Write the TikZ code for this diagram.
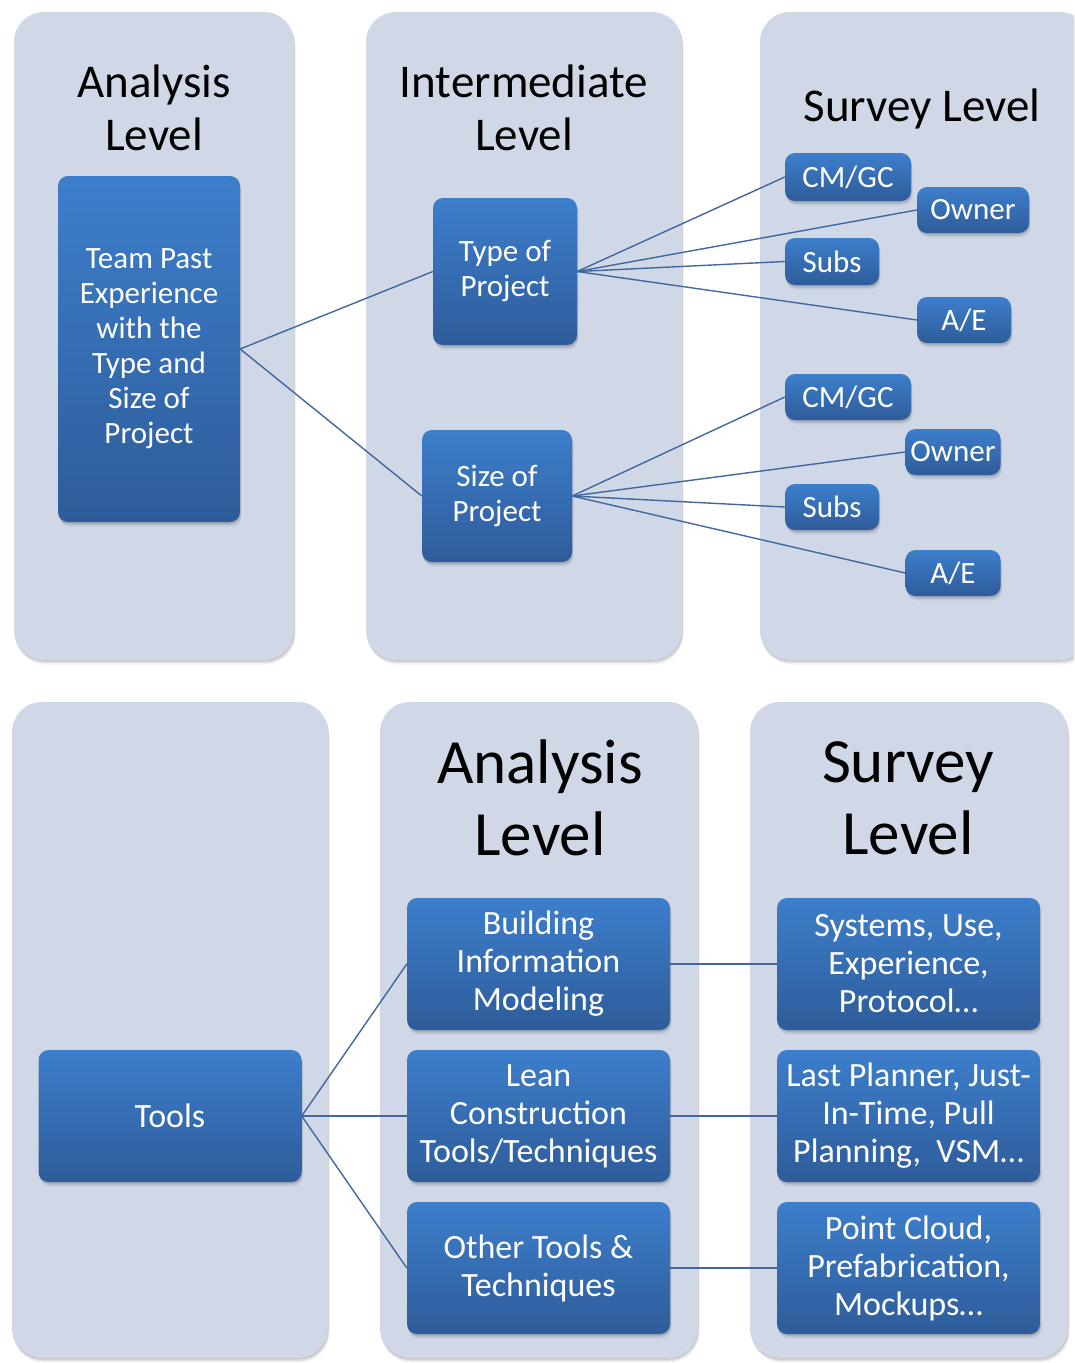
\documentclass[tikz,border=0pt]{standalone}
\usepackage{fontspec}
\setmainfont{Carlito}
\usetikzlibrary{shadows}

\definecolor{panelfill}{HTML}{D0D8E8}
\definecolor{boxtop}{HTML}{3D7ECB}
\definecolor{boxbot}{HTML}{2E5C9A}
\definecolor{linkcol}{HTML}{41679E}

\tikzset{
  softshadow/.style={
    drop shadow={shadow xshift=0.5pt, shadow yshift=-1.5pt, opacity=0.10, fill=black},
    drop shadow={shadow xshift=1pt, shadow yshift=-3pt, opacity=0.08, fill=black},
    drop shadow={shadow xshift=1.5pt, shadow yshift=-4.5pt, opacity=0.05, fill=black}},
  panel/.style={rectangle, rounded corners=30pt, fill=panelfill, draw=none,
    inner sep=0pt, softshadow},
  bluebox/.style={rectangle, rounded corners=10pt, top color=boxtop,
    bottom color=boxbot, draw=none, text=white, align=center, inner sep=0pt,
    softshadow},
  smalltxt/.style={font=\fontsize{31}{35}\selectfont},
  bigtxt/.style={font=\fontsize{34}{38}\selectfont},
  title/.style={align=center, text=black, font=\fontsize{47}{53}\selectfont},
  bigtitle/.style={align=center, text=black, font=\fontsize{63}{72}\selectfont},
  link/.style={draw=linkcol, line width=1.4pt},
}

\begin{document}
\begin{tikzpicture}[x=1pt, y=-1pt]
\useasboundingbox (0,0) rectangle (1074,1363);
\clip (0,0) rectangle (1074,1363);

% background columns
\node[panel, minimum width=280pt, minimum height=648pt] (p1) at (154,336) {};
\node[panel, minimum width=316pt, minimum height=648pt] (p2) at (524,336) {};
\node[panel, minimum width=330pt, minimum height=648pt] (p3) at (925,336) {};
\node[panel, minimum width=316pt, minimum height=656pt] (p4) at (170,1030) {};
\node[panel, minimum width=318pt, minimum height=656pt] (p5) at (539,1030) {};
\node[panel, minimum width=318pt, minimum height=656pt] (p6) at (909,1030) {};

% column headings
\node[title] (t1) at (154,108) {Analysis\\Level};
\node[title] (t2) at (524,108) {Intermediate\\Level};
\node[title] (t3) at (922,109) {Survey Level};
\node[bigtitle] (t4) at (540,798) {Analysis\\Level};
\node[bigtitle] (t5) at (908,798) {Survey\\Level};

% upper tree
\node[bluebox, smalltxt, minimum width=182pt, minimum height=346pt] (team) at (149,349)
  {Team Past\\Experience\\with the\\Type and\\Size of\\Project};
\node[bluebox, smalltxt, minimum width=144pt, minimum height=147pt] (type) at (505,271.5)
  {Type of\\Project};
\node[bluebox, smalltxt, minimum width=150pt, minimum height=132pt] (size) at (497,496)
  {Size of\\Project};

\node[bluebox, smalltxt, minimum width=126pt, minimum height=48pt] (cma) at (848,177) {CM/GC};
\node[bluebox, smalltxt, minimum width=112pt, minimum height=46pt] (owna) at (973,210) {Owner};
\node[bluebox, smalltxt, minimum width=94pt, minimum height=47pt] (subsa) at (832,261.5) {Subs};
\node[bluebox, smalltxt, minimum width=94pt, minimum height=46pt] (aea) at (964,320) {A/E};

\node[bluebox, smalltxt, minimum width=126pt, minimum height=46pt] (cmb) at (848,397) {CM/GC};
\node[bluebox, smalltxt, minimum width=95pt, minimum height=46pt] (ownb) at (953,452) {Owner};
\node[bluebox, smalltxt, minimum width=94pt, minimum height=46pt] (subsb) at (832,507) {Subs};
\node[bluebox, smalltxt, minimum width=95pt, minimum height=46pt] (aeb) at (953,573) {A/E};

% lower tree
\node[bluebox, bigtxt, minimum width=263pt, minimum height=132pt] (tools) at (170,1116) {Tools};
\node[bluebox, bigtxt, minimum width=263pt, minimum height=132pt] (bim) at (538.5,964)
  {Building\\Information\\Modeling};
\node[bluebox, bigtxt, minimum width=263pt, minimum height=132pt] (lean) at (538.5,1116)
  {Lean\\Construction\\Tools/Techniques};
\node[bluebox, bigtxt, minimum width=263pt, minimum height=132pt] (other) at (538.5,1268)
  {Other Tools \&\\Techniques};
\node[bluebox, bigtxt, minimum width=263pt, minimum height=132pt] (sys) at (908.5,964)
  {Systems, Use,\\Experience,\\Protocol…};
\node[bluebox, bigtxt, minimum width=263pt, minimum height=132pt] (last) at (908.5,1116)
  {Last Planner, Just-\\In-Time, Pull\\Planning,\ \ VSM…};
\node[bluebox, bigtxt, minimum width=263pt, minimum height=132pt] (point) at (908.5,1268)
  {Point Cloud,\\Prefabrication,\\Mockups…};

% connectors
\draw[link] (team.east) -- (type.west);
\draw[link] (team.east) -- (size.west);
\foreach \n in {cma,owna,subsa,aea} \draw[link] (type.east) -- (\n.west);
\foreach \n in {cmb,ownb,subsb,aeb} \draw[link] (size.east) -- (\n.west);
\foreach \n in {bim,lean,other} \draw[link] (tools.east) -- (\n.west);
\draw[link] (bim.east) -- (sys.west);
\draw[link] (lean.east) -- (last.west);
\draw[link] (other.east) -- (point.west);
\end{tikzpicture}
\end{document}
